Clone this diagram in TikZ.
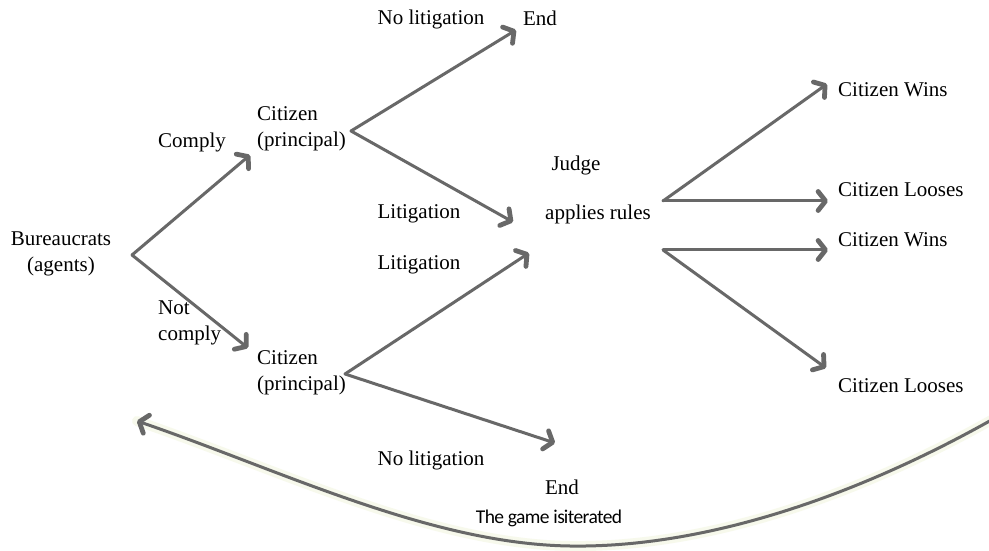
\documentclass[tikz,border=0pt]{standalone}
\usepackage{fontspec}
\setmainfont{Liberation Serif}
\newfontfamily\gamefont{Carlito}
\usetikzlibrary{arrows.meta}
\definecolor{arrgray}{HTML}{686868}
\definecolor{glow}{HTML}{F7F9EC}
\begin{document}
\begin{tikzpicture}[x=1pt,y=1pt,
  lbl/.style={inner sep=0pt, font=\fontsize{21}{26}\selectfont},
  lblL/.style={lbl, align=left, anchor=west},
  conn/.style={draw=arrgray, line width=3pt, line cap=round,
    -{Straight Barb[length=7.5pt,width=19pt,line width=4.8pt,round]}}]
\useasboundingbox (0,0) rectangle (989,550);
\fill[white] (0,0) rectangle (989,550);
% text nodes (y = 550 - pixel row)
\node[lbl, align=center] (bur) at (61,296) {Bureaucrats\\(agents)};
\node[lbl] (comply) at (192,408) {Comply};
\node[lblL] (notc) at (158,227) {Not\\comply};
\node[lblL] (cit1) at (257,421) {Citizen\\(principal)};
\node[lblL] (cit2) at (257,177) {Citizen\\(principal)};
\node[lbl] (nolit1) at (431,531) {No litigation};
\node[lbl] (end1) at (540,532) {End};
\node[lbl] (judge) at (576,385) {Judge};
\node[lbl] (applies) at (598,336) {applies rules};
\node[lbl] (lit1) at (419,336) {Litigation};
\node[lbl] (lit2) at (419,285) {Litigation};
\node[lbl] (nolit2) at (431,90) {No litigation};
\node[lbl] (end2) at (562,63) {End};
\node[inner sep=0pt, font=\gamefont\fontsize{19.5}{22}\selectfont] (game) at (549,32) {\addfontfeatures{LetterSpace=-3}The game is\hspace{-1pt}iterated};
\node[lblL] (wins1) at (838,460) {Citizen Wins};
\node[lblL] (loos1) at (838,360) {Citizen Looses};
\node[lblL] (wins2) at (838,310) {Citizen Wins};
\node[lblL] (loos2) at (838,164) {Citizen Looses};
% connector end points
\coordinate (b-o) at (132,295);
\coordinate (c1-i) at (250,395);
\coordinate (c2-i) at (248,202);
\coordinate (c1-o) at (351,419);
\coordinate (e1-i) at (516,520);
\coordinate (j-i1) at (513,328);
\coordinate (c2-o) at (345,176);
\coordinate (j-i2) at (529,297);
\coordinate (e2-i) at (555,107);
\coordinate (j-o1) at (663,349);
\coordinate (j-o2) at (663,300);
\coordinate (w1-i) at (827,466);
\coordinate (l1-i) at (828,349);
\coordinate (w2-i) at (828,300);
\coordinate (l2-i) at (826,182);
\coordinate (loopA) at (995,132);
\coordinate (loopM) at (570,4);
\coordinate (loopB) at (137,129);
% connectors
\draw[conn] (b-o) -- (c1-i);
\draw[conn] (b-o) -- (c2-i);
\draw[conn] (c1-o) -- (e1-i);
\draw[conn] (c1-o) -- (j-i1);
\draw[conn] (c2-o) -- (j-i2);
\draw[conn] (c2-o) -- (e2-i);
\draw[conn] (j-o1) -- (w1-i);
\draw[conn] (j-o1) -- (l1-i);
\draw[conn] (j-o2) -- (w2-i);
\draw[conn] (j-o2) -- (l2-i);
% iteration loop
\draw[glow, line width=10pt, line cap=round] (loopA) .. controls (850,50) and (700,2) .. (loopM) .. controls (430,6) and (280,80) .. (loopB);
\draw[conn] (loopA) .. controls (850,50) and (700,2) .. (loopM) .. controls (430,6) and (280,80) .. (loopB);
\end{tikzpicture}
\end{document}
